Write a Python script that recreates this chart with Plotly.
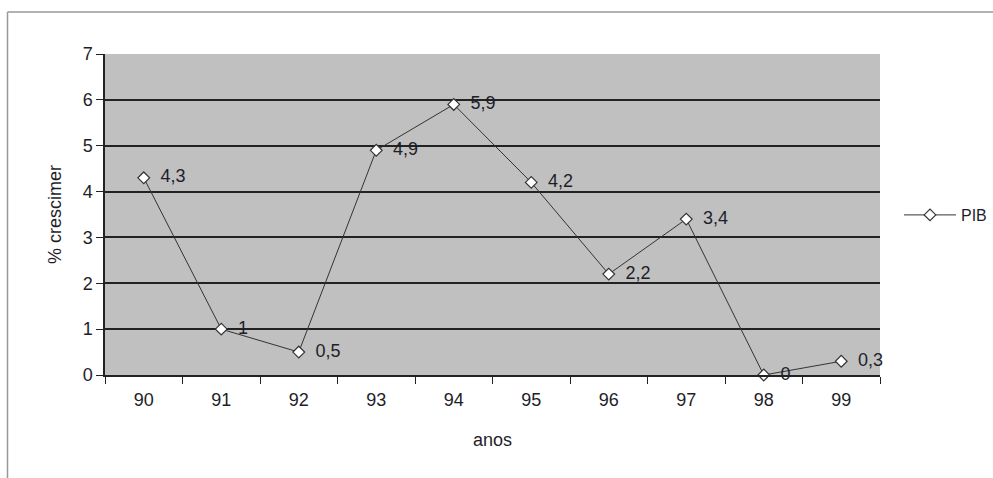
import plotly.graph_objects as go

anos = ["90", "91", "92", "93", "94", "95", "96", "97", "98", "99"]
pib = [4.3, 1, 0.5, 4.9, 5.9, 4.2, 2.2, 3.4, 0, 0.3]
rotulos = ["4,3", "1", "0,5", "4,9", "5,9", "4,2", "2,2", "3,4", "0", "0,3"]
y_ticks = [0, 1, 2, 3, 4, 5, 6, 7]

W, H = 993, 478
L, R, T, B = 105, 113, 54, 103
pw, ph = W - L - R, H - T - B

def px(x):
    return (x - L) / pw

def py(y):
    return (H - B - y) / ph

font = "Liberation Sans, Arial, sans-serif"

fig = go.Figure()
fig.add_trace(go.Scatter(
    x=anos, y=pib, mode="lines+markers+text", name="PIB",
    text=["  " + t for t in rotulos], textposition="middle right",
    textfont=dict(family=font, size=18, color="#1e1e2a"),
    line=dict(color="#333", width=1),
    marker=dict(symbol="diamond", size=9, color="white",
                line=dict(color="#333", width=1.2)),
    cliponaxis=False,
))

fig.update_layout(
    width=W, height=H,
    margin=dict(l=L, r=R, t=T, b=B, autoexpand=False),
    paper_bgcolor="white", plot_bgcolor="#c0c0c0",
    font=dict(family=font, size=18, color="#1e1e2a"),
    showlegend=True,
    legend=dict(x=px(899), y=py(215), xanchor="left", yanchor="middle",
                bgcolor="rgba(0,0,0,0)", font=dict(size=16, color="#1e1e2a"),
                itemwidth=52),
    xaxis=dict(
        type="category", range=[-0.5, 9.5],
        showline=True, linecolor="#222", linewidth=1.5,
        ticks="outside", ticklen=7, tickcolor="#222", tickson="boundaries",
        showgrid=False, tickfont=dict(size=18), ticklabelstandoff=8,
        title=dict(text="anos", font=dict(size=18), standoff=24),
    ),
    yaxis=dict(
        range=[0, 7], tickvals=y_ticks,
        showline=True, linecolor="#222", linewidth=1.5,
        ticks="outside", ticklen=7, tickcolor="#222",
        showgrid=True, gridcolor="#222", gridwidth=1.5,
        zeroline=False, tickfont=dict(size=18),
        title=dict(text="% crescimer", font=dict(size=18), standoff=16),
    ),
    shapes=[
        dict(type="line", xref="paper", yref="paper",
             x0=px(7.5), x1=px(7.5), y0=py(12), y1=py(490),
             line=dict(color="#999", width=1.5)),
        dict(type="line", xref="paper", yref="paper",
             x0=px(7.5), x1=px(1000), y0=py(12), y1=py(12),
             line=dict(color="#999", width=1.5)),
    ],
)

fig.write_html("out.html", config={"displayModeBar": False},
               post_script="document.body.style.margin='0';")
